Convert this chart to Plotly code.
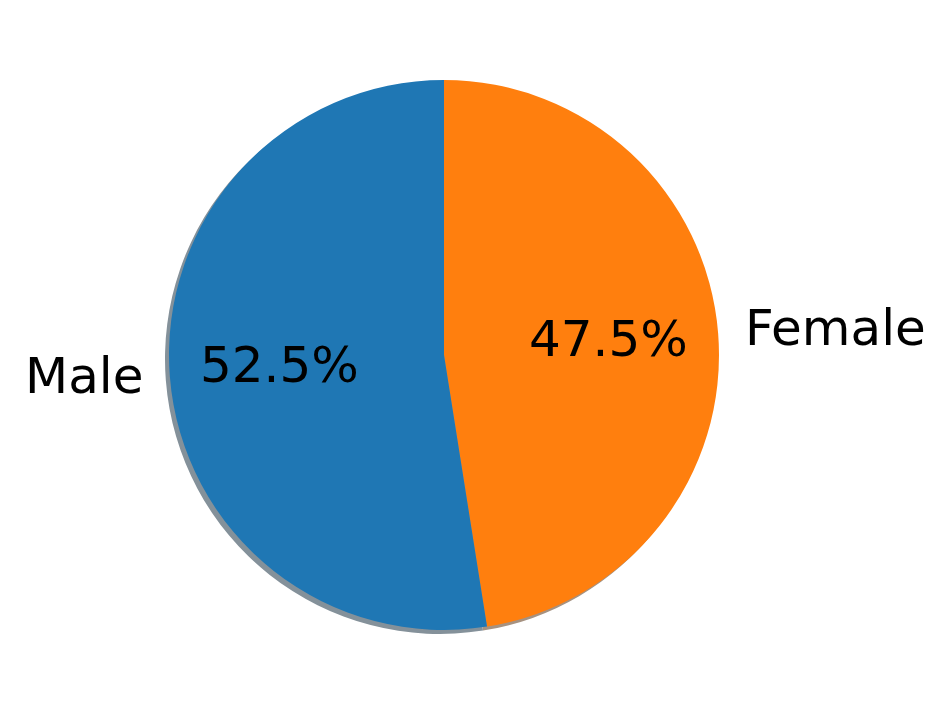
import math
import plotly.graph_objects as go

labels = ["Male", "Female"]
values = [52.5, 47.5]
colors = ["#1f77b4", "#ff7f0e"]
shadow_colors = ["#84919a", "#a69281"]

W, H = 951, 713
OFF = 8                      # page body margin of the html page
cx, cy, r = 444 - OFF, 355 - OFF, 275   # pie centre / radius in pixels
shadow_dx, shadow_dy = -4, 4
font_size = 50

def dom(cxp, cyp):
    return dict(x=[(cxp - r) / W, (cxp + r) / W],
                y=[1 - (cyp + r) / H, 1 - (cyp - r) / H])

# matplotlib draws counter-clockwise from 12 o'clock; plotly clockwise with reversed order is equivalent
fig = go.Figure()
fig.add_trace(go.Pie(labels=labels[::-1], values=values[::-1], sort=False, direction="clockwise",
                     rotation=0, marker=dict(colors=shadow_colors[::-1], line=dict(width=0)),
                     textinfo="none", hoverinfo="skip", showlegend=False,
                     domain=dom(cx + shadow_dx, cy + shadow_dy)))
fig.add_trace(go.Pie(labels=labels[::-1], values=values[::-1], sort=False, direction="clockwise",
                     rotation=0, marker=dict(colors=colors[::-1], line=dict(width=0)),
                     textinfo="none", showlegend=False, domain=dom(cx, cy)))

total = sum(values)
start = 90.0
annotations = []
for lab, v in zip(labels, values):
    span = 360.0 * v / total
    mid = math.radians(start + span / 2)
    start += span
    side = -1 if math.cos(mid) < 0 else 1
    lx = cx + 1.1 * r * math.cos(mid)
    ly = cy - 1.1 * r * math.sin(mid)
    annotations.append(dict(x=lx / W, y=1 - ly / H, xref="paper", yref="paper",
                            text=lab, showarrow=False,
                            xanchor="right" if side < 0 else "left",
                            yanchor="middle", xshift=-3 * side, yshift=3,
                            font=dict(family="DejaVu Sans", size=font_size, color="black")))
    px = cx + 0.6 * r * math.cos(mid)
    py = cy - 0.6 * r * math.sin(mid)
    annotations.append(dict(x=px / W, y=1 - py / H, xref="paper", yref="paper",
                            text=f"{100 * v / total:.1f}%", showarrow=False,
                            xanchor="center", yanchor="middle", yshift=3,
                            font=dict(family="DejaVu Sans", size=font_size, color="black")))

fig.update_layout(width=W, height=H, margin=dict(l=0, r=0, t=0, b=0),
                  paper_bgcolor="white", plot_bgcolor="white",
                  annotations=annotations)
fig.write_html("out.html")
